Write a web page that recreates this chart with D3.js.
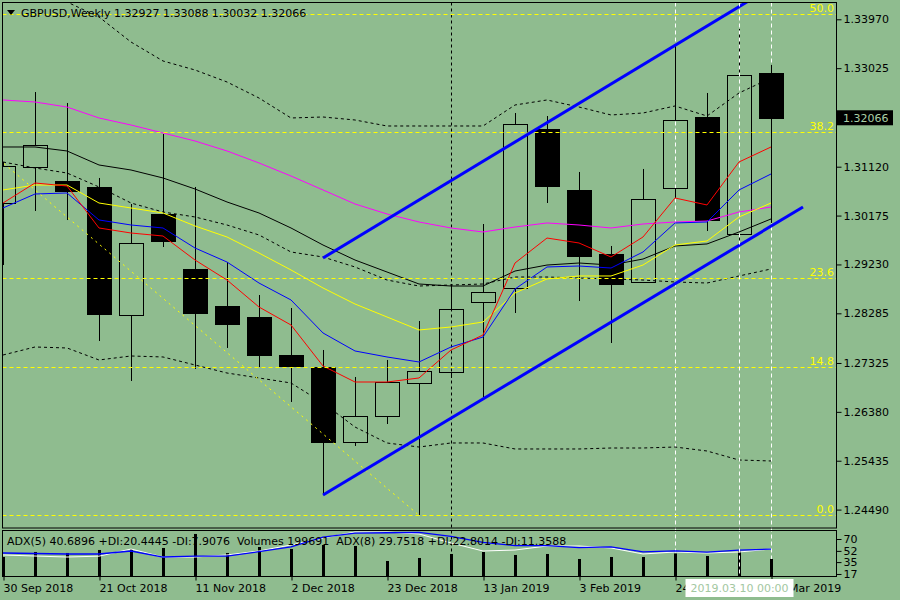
<!DOCTYPE html>
<html>
<head>
<meta charset="utf-8">
<script src="https://cdn.jsdelivr.net/npm/d3@7"></script>
<style>
  body { margin: 0; background: #8fbc8f; }
  text { font-family: "DejaVu Sans", sans-serif; font-size: 11px; }
</style>
</head>
<body>
<div id="chart"></div>
<script>
// ---- data ----
const symbol = "GBPUSD,Weekly";
const weeks = ["2018-09-30","2018-10-07","2018-10-14","2018-10-21","2018-10-28","2018-11-04",
  "2018-11-11","2018-11-18","2018-11-25","2018-12-02","2018-12-09","2018-12-16","2018-12-23",
  "2018-12-30","2019-01-06","2019-01-13","2019-01-20","2019-01-27","2019-02-03","2019-02-10",
  "2019-02-17","2019-02-24","2019-03-03","2019-03-10","2019-03-17"];

const open  = [1.30418,1.31114,1.30844,1.30728,1.28253,1.30206,1.29142,1.28427,1.28214,1.27479,
  1.27247,1.25797,1.26300,1.26938,1.27151,1.28504,1.28775,1.31849,1.30670,1.29432,
  1.28891,1.30708,1.32081,1.29819,1.32927];
const high  = [1.31211,1.32564,1.32352,1.30902,1.30399,1.31752,1.30728,1.29277,1.28639,1.28388,
  1.27576,1.27054,1.27383,1.28137,1.28852,1.30012,1.32158,1.32100,1.31018,1.29587,
  1.31076,1.33473,1.32545,1.33782,1.33088];
const low   = [1.29219,1.30264,1.30089,1.27750,1.26977,1.29567,1.27209,1.27615,1.27247,1.26571,
  1.24772,1.25720,1.26145,1.24386,1.27035,1.26667,1.28291,1.30418,1.28523,1.27711,
  1.28871,1.30515,1.29877,1.29606,1.30032];
const close = [1.31134,1.31540,1.30650,1.28272,1.29645,1.29683,1.28291,1.28079,1.27479,1.27267,
  1.25797,1.26300,1.26957,1.27170,1.28369,1.28697,1.31946,1.30747,1.29393,1.28852,
  1.30496,1.32023,1.30089,1.32893,1.32066];

// moving averages
const maMagenta = [1.32410,1.32371,1.32274,1.32062,1.31926,1.31772,1.31617,1.31424,1.31192,1.30940,
  1.30670,1.30399,1.30206,1.30051,1.29935,1.29858,1.29954,1.30032,1.29993,1.29935,
  1.30012,1.30051,1.30070,1.30244,1.30341];
const maBlack = [1.31501,1.31501,1.31424,1.31153,1.31056,1.30902,1.30689,1.30438,1.30225,1.29935,
  1.29606,1.29316,1.29084,1.28852,1.28813,1.28813,1.29103,1.29219,1.29258,1.29219,
  1.29335,1.29587,1.29626,1.29858,1.30109];
const maYellow = [1.30670,1.30766,1.30766,1.30418,1.30322,1.30225,1.29974,1.29761,1.29451,1.29123,
  1.28775,1.28465,1.28214,1.27963,1.28021,1.28117,1.28678,1.28949,1.29007,1.29007,
  1.29219,1.29606,1.29684,1.30148,1.30418];
const maBlue = [1.30322,1.30592,1.30612,1.30090,1.29993,1.29935,1.29548,1.29277,1.28871,1.28543,
  1.27905,1.27557,1.27441,1.27344,1.27634,1.27827,1.28755,1.29181,1.29200,1.29161,
  1.29471,1.30032,1.30051,1.30670,1.30979];
const maRed = [1.30418,1.30805,1.30747,1.29935,1.29838,1.29780,1.29316,1.28929,1.28407,1.28059,
  1.27267,1.26957,1.26957,1.27035,1.27576,1.27866,1.29258,1.29741,1.29645,1.29374,
  1.29761,1.30515,1.30380,1.31211,1.31501];

// bollinger bands
const bbMid = [1.31211,1.31095,1.30998,1.30728,1.30418,1.30244,1.30148,1.29993,1.29800,1.29471,
  1.29374,1.29181,1.28929,1.28813,1.28833,1.28852,1.28987,1.28987,1.28968,1.28949,
  1.28929,1.28891,1.28871,1.29007,1.29142];
const bbUpper = [1.35020,1.34633,1.34305,1.34015,1.33531,1.33164,1.32990,1.32758,1.32448,1.32062,
  1.32081,1.32023,1.31907,1.31907,1.31907,1.31907,1.32313,1.32410,1.32274,1.32120,
  1.32158,1.32294,1.32100,1.32545,1.32835];
const bbLower = [1.27479,1.27634,1.27615,1.27383,1.27460,1.27441,1.27286,1.27131,1.27035,1.26938,
  1.26551,1.26087,1.25778,1.25700,1.25778,1.25778,1.25662,1.25662,1.25662,1.25681,
  1.25681,1.25700,1.25623,1.25449,1.25430];

// indicator window
const volumes = [223200,281900,270200,305400,317100,328900,493300,270200,340600,317100,
  364100,352400,176200,211400,258400,281900,246700,258400,199700,223200,
  223200,264300,234900,293700,199691];
const adxBlue = [48.8,48.0,47.3,47.3,51.8,42.7,44.0,44.0,50.8,58.2,73.0,79.0,79.5,80.0,74.0,
  65.0,60.0,60.0,57.0,58.0,50.5,52.0,50.0,53.0,54.8];
const adxWhite = [45.8,44.2,42.7,44.0,54.8,42.7,42.7,45.8,51.8,61.0,71.5,80.6,80.6,77.6,64.0,
  51.8,53.3,59.4,59.4,56.4,47.3,50.3,48.8,50.3,54.8];
const adx5 = [40.6896, 20.4445, 7.9076];
const adx8 = [29.7518, 22.8014, 11.3588];

// chart objects
const fibHigh = [-24, 1.43780];   // [week index, price]
const fibLow  = [13, 1.24380];
const fibLevels = [0.0, 14.8, 23.6, 38.2, 50.0];
const channelUpper = [[10, 1.29355], [24, 1.34587]];
const channelLower = [[10, 1.24772], [25, 1.30341]];
const vlinesBlack = [14];
const vlinesWhite = [21, 24];
const crosshairIdx = 23;

const priceTicks = [1.33970,1.33025,1.31120,1.30175,1.29230,1.28285,1.27325,1.26380,1.25435,1.24490];
const adxTicks = [70, 52, 35, 17];
const dateTicks = [0, 3, 6, 9, 12, 15, 18, 21, 24];

// ---- layout ----
const W = 900, H = 600;
const left = 2.5, right = 836.5;
const mainTop = 2.5, mainBottom = 528;
const subTop = 530.5, subBottom = 576.5;
const bg = "#8fbc8f";

const parseDate = d3.timeParse("%Y-%m-%d");
const fmtDate = d3.timeFormat("%-d %b %Y");
const f5 = d3.format(".5f");

const svg = d3.select("#chart").append("svg")
  .attr("width", W).attr("height", H);

svg.append("rect").attr("width", W).attr("height", H).attr("fill", bg);

const x = d3.scaleLinear().domain([0, 26]).range([3, 835]);
const y = d3.scaleLinear().domain([1.343045, 1.241342]).range([2, 528]);
const yAdx = d3.scaleLinear().domain([0, 100]).range([585.2, 519.2]);
const yVol = d3.scaleLinear().domain([0, 534000]).range([576, 530.5]);

const defs = svg.append("defs");
defs.append("clipPath").attr("id", "clipMain").append("rect")
  .attr("x", left).attr("y", mainTop).attr("width", right - left).attr("height", mainBottom - mainTop);
defs.append("clipPath").attr("id", "clipSub").append("rect")
  .attr("x", left).attr("y", subTop).attr("width", right - left).attr("height", subBottom - subTop);
defs.append("clipPath").attr("id", "clipAll").append("rect")
  .attr("x", left).attr("y", mainTop).attr("width", right - left).attr("height", subBottom - mainTop);

const px = i => Math.round(x(i)) + 0.5;

// vertical line objects (behind candles)
const back = svg.append("g").attr("clip-path", "url(#clipAll)");
vlinesBlack.forEach(i => {
  back.append("line").attr("x1", px(i)).attr("x2", px(i)).attr("y1", mainTop).attr("y2", subBottom)
    .attr("stroke", "#000").attr("stroke-dasharray", "3,3");
});
vlinesWhite.forEach(i => {
  back.append("line").attr("x1", px(i)).attr("x2", px(i)).attr("y1", mainTop).attr("y2", subBottom)
    .attr("stroke", "#fff").attr("stroke-dasharray", "4,3");
});

const main = svg.append("g").attr("clip-path", "url(#clipMain)");

// candles
const candles = weeks.map((w, i) => ({i, o: open[i], h: high[i], l: low[i], c: close[i]}));
const bodyW = 23;
const cg = main.append("g");
candles.forEach(d => {
  const cx = px(d.i);
  const top = Math.round(y(Math.max(d.o, d.c))) + 0.5;
  const bot = Math.round(y(Math.min(d.o, d.c))) + 0.5;
  const bull = d.c >= d.o;
  if (bull) {
    cg.append("line").attr("x1", cx).attr("x2", cx).attr("y1", y(d.h)).attr("y2", top).attr("stroke", "#000");
    cg.append("line").attr("x1", cx).attr("x2", cx).attr("y1", bot).attr("y2", y(d.l)).attr("stroke", "#000");
  } else {
    cg.append("line").attr("x1", cx).attr("x2", cx).attr("y1", y(d.h)).attr("y2", y(d.l)).attr("stroke", "#000");
  }
  cg.append("rect")
    .attr("x", cx - 12).attr("y", top)
    .attr("width", bodyW + 1).attr("height", Math.max(1, bot - top))
    .attr("fill", bull ? "none" : "#000")
    .attr("stroke", "#000");
});

// indicator lines
const line = d3.line().x((d, i) => x(i)).y(d => y(d));
const drawLine = (vals, color, dash) => main.append("path").datum(vals)
  .attr("d", line).attr("fill", "none").attr("stroke", color).attr("stroke-width", 1)
  .attr("stroke-dasharray", dash || null);

drawLine(bbUpper, "#000", "3,3");
drawLine(bbMid, "#000", "3,3");
drawLine(bbLower, "#000", "3,3");
drawLine(maMagenta, "#ff00ff");
drawLine(maBlack, "#000");
drawLine(maYellow, "#ffff00");
drawLine(maBlue, "#0000ff");
drawLine(maRed, "#ff0000");

// fibonacci
const fibRange = fibHigh[1] - fibLow[1];
fibLevels.forEach(lv => {
  const yy = Math.round(y(fibLow[1] + fibRange * lv / 100)) + 0.5;
  main.append("line").attr("x1", left).attr("x2", right).attr("y1", yy).attr("y2", yy)
    .attr("stroke", "#ffff00").attr("stroke-dasharray", "4,3");
  svg.append("text").attr("x", 834).attr("y", yy - 2.5).attr("text-anchor", "end")
    .attr("fill", "#ffff00").text(lv.toFixed(1));
});
main.append("line")
  .attr("x1", x(fibHigh[0])).attr("y1", y(fibHigh[1]))
  .attr("x2", x(fibLow[0])).attr("y2", y(fibLow[1]))
  .attr("stroke", "#ffff00").attr("stroke-dasharray", "2,4");

// trend channel
[channelUpper, channelLower].forEach(c => {
  main.append("line")
    .attr("x1", x(c[0][0])).attr("y1", y(c[0][1]))
    .attr("x2", x(c[1][0])).attr("y2", y(c[1][1]))
    .attr("stroke", "#0000ff").attr("stroke-width", 3);
});

// sub window: volumes + adx
const sub = svg.append("g").attr("clip-path", "url(#clipSub)");
volumes.forEach((v, i) => {
  sub.append("rect").attr("x", Math.round(x(i)) - 1).attr("y", yVol(v))
    .attr("width", 3).attr("height", yVol(0) - yVol(v)).attr("fill", "#000");
});
const adxLine = d3.line().x((d, i) => x(i)).y(d => yAdx(d));
sub.append("path").datum(adxWhite).attr("d", adxLine).attr("fill", "none")
  .attr("stroke", "#fff").attr("stroke-width", 1);
sub.append("path").datum(adxBlue).attr("d", adxLine).attr("fill", "none")
  .attr("stroke", "#0000ff").attr("stroke-width", 1.3);

// crosshair on top
svg.append("line").attr("x1", px(crosshairIdx)).attr("x2", px(crosshairIdx))
  .attr("y1", mainTop).attr("y2", subBottom)
  .attr("stroke", "#fff").attr("stroke-dasharray", "4,3");

// frames
svg.append("rect").attr("x", left).attr("y", mainTop).attr("width", right - left)
  .attr("height", mainBottom - mainTop).attr("fill", "none").attr("stroke", "#000");
svg.append("rect").attr("x", left).attr("y", subTop).attr("width", right - left)
  .attr("height", subBottom - subTop).attr("fill", "none").attr("stroke", "#000");

// price axis
const yAxis = d3.axisRight(y).tickValues(priceTicks).tickFormat(f5).tickSize(5).tickPadding(2);
svg.append("g").attr("transform", `translate(${right},0)`).call(yAxis)
  .call(g => g.select(".domain").remove())
  .call(g => g.selectAll("text").attr("fill", "#000").style("font-size", "11px").style("font-family", "DejaVu Sans"));

// current price label
const lastY = y(close[close.length - 1]);
svg.append("rect").attr("x", 837).attr("y", lastY - 7.5).attr("width", 56).attr("height", 15).attr("fill", "#000");
svg.append("text").attr("x", 843).attr("y", lastY).attr("dy", "0.35em")
  .attr("fill", "#a9cfa6").text(f5(close[close.length - 1]));

// adx axis
const adxAxis = d3.axisRight(yAdx).tickValues(adxTicks).tickSize(5).tickPadding(2);
svg.append("g").attr("transform", `translate(${right},0)`).call(adxAxis)
  .call(g => g.select(".domain").remove())
  .call(g => g.selectAll("text").attr("fill", "#000").style("font-size", "11px").style("font-family", "DejaVu Sans"));

// date axis
const xAxis = d3.axisBottom(x).tickValues(dateTicks).tickSize(4).tickPadding(4)
  .tickFormat(i => fmtDate(parseDate(weeks[i])));
svg.append("g").attr("transform", `translate(0,${subBottom})`).call(xAxis)
  .call(g => g.select(".domain").remove())
  .call(g => g.selectAll(".tick line").attr("transform", "translate(0.5,0)"))
  .call(g => g.selectAll("text").attr("text-anchor", "start").attr("fill", "#000")
    .style("font-size", "11px").style("font-family", "DejaVu Sans"));

// crosshair date label
const cd = d3.timeFormat("%Y.%m.%d %H:%M")(parseDate(weeks[crosshairIdx]));
svg.append("rect").attr("x", px(crosshairIdx) - 54).attr("y", 579).attr("width", 108).attr("height", 18).attr("fill", "#fff");
svg.append("text").attr("x", px(crosshairIdx)).attr("y", 592).attr("text-anchor", "middle")
  .attr("fill", "#a3c7a1").text(cd);

// header
svg.append("path").attr("d", "M7,10 L15,10 L11,15 Z").attr("fill", "#000");
svg.append("text").attr("x", 21).attr("y", 17).attr("fill", "#000")
  .text(`${symbol}  ${f5(open[24])} ${f5(high[24])} ${f5(low[24])} ${f5(close[24])}`);

// sub window caption
const f4 = d3.format(".4f");
svg.append("text").attr("x", 7).attr("y", 545).attr("fill", "#000").attr("xml:space", "preserve")
  .style("white-space", "pre")
  .text(`ADX(5) ${f4(adx5[0])} +DI:${f4(adx5[1])} -DI:${f4(adx5[2])}  Volumes ${volumes[24]}  ADX(8) ${f4(adx8[0])} +DI:${f4(adx8[1])} -DI:${f4(adx8[2])}`);
</script>
</body>
</html>
